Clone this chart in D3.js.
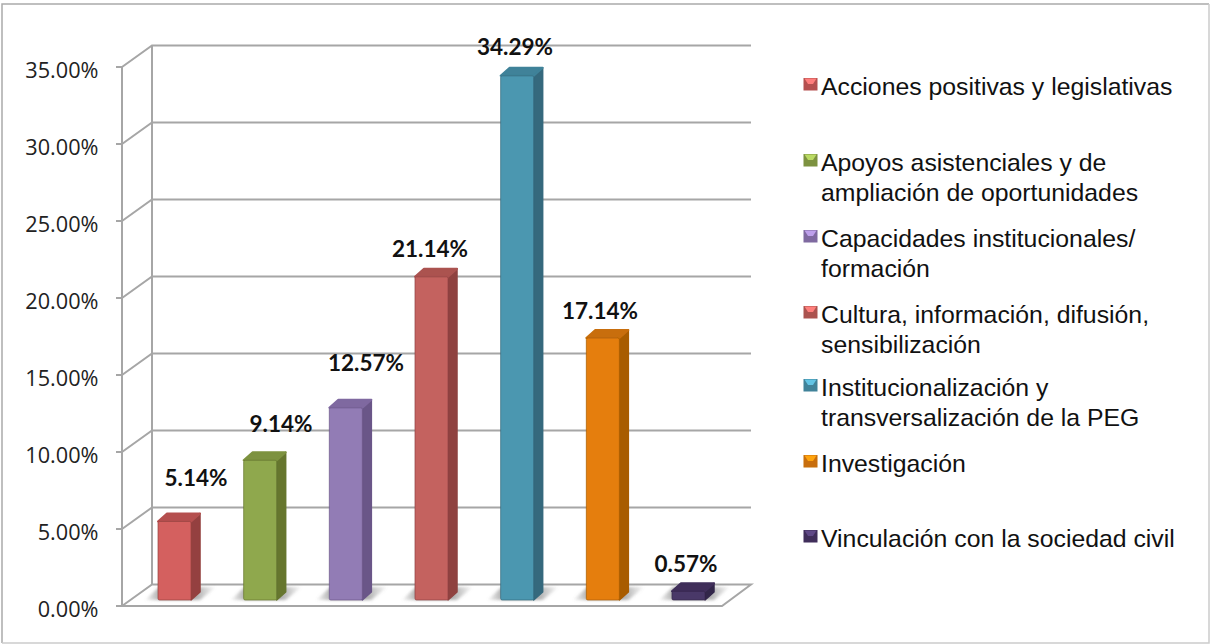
<!DOCTYPE html>
<html><head><meta charset="utf-8">
<script src="https://cdn.jsdelivr.net/npm/d3@7/dist/d3.min.js"></script>
<style>html,body{margin:0;padding:0;background:#fff}svg{display:block}</style></head>
<body><svg id="c" width="1210" height="644"></svg>
<script>
const categories=["Acciones positivas y legislativas","Apoyos asistenciales y de ampliación de oportunidades","Capacidades institucionales/ formación","Cultura, información, difusión, sensibilización","Institucionalización y transversalización de la PEG","Investigación","Vinculación con la sociedad civil"];
const legendLines=[["Acciones positivas y legislativas"],["Apoyos asistenciales y de","ampliación de oportunidades"],["Capacidades institucionales/","formación"],["Cultura, información, difusión,","sensibilización"],["Institucionalización y","transversalización de la PEG"],["Investigación"],["Vinculación con la sociedad civil"]];
const values=[5.14,9.14,12.57,21.14,34.29,17.14,0.57];
const valueLabels=["5.14%","9.14%","12.57%","21.14%","34.29%","17.14%","0.57%"];
const labelPos=[[196,478],[281,424],[366,363],[430,249],[515,47],[600,311],[686,564]];
const ticks=[0,5,10,15,20,25,30,35];
const front=["#D4605F","#8FA84D","#927BB5","#C4625F","#4B97B0","#E57E0A","#4A3768"];
const side=["#94413F","#66762F","#6A5688","#8F4341","#35697D","#A85B06","#33264A"];
const topc=["#B5504F","#7D923F","#7F69A0","#AB5250","#3F8299","#C86E08","#3F2E5A"];
const legendY=[84,160,236,312,385,461,536];

const svg=d3.select("#c");
const defs=svg.append("defs");
defs.append("filter").attr("id","blur").attr("filterUnits","userSpaceOnUse").attr("x",100).attr("y",560).attr("width",680).attr("height",60)
  .append("feGaussianBlur").attr("stdDeviation",1.8);
defs.append("filter").attr("id","soft").attr("x","-10%").attr("width","120%").attr("y","-10%").attr("height","120%")
  .append("feGaussianBlur").attr("stdDeviation",0.45);

const frame=svg.append("g").attr("fill","none").attr("stroke-width",1.5);
frame.append("path").attr("d","M2 643V4H1209").attr("stroke","#aaaaaa");
frame.append("path").attr("d","M1209 4V643H2").attr("stroke","#cccccc");

const y=d3.scaleLinear().domain([0,35]).range([606,67]);
const yBar=d3.scaleLinear().domain([0,35]).range([600,65]);
const x=d3.scaleBand().domain(d3.range(categories.length)).range([158,705]).paddingInner(.6145).paddingOuter(0);
const dx=30,dy=-21.5;
const grid="#a6a6a6";
const g=svg.append("g").attr("fill","none").attr("stroke",grid).attr("stroke-width",2);
g.append("path").attr("d",`M122 ${y(0)}L${122+dx} ${y(0)+dy}H751L722 ${y(0)}Z`).attr("fill","#fff");
ticks.forEach(t=>{
  if(t>0) g.append("path").attr("d",`M122 ${y(t)}L${122+dx} ${y(t)+dy}H751`);
  g.append("line").attr("x1",122).attr("x2",116).attr("y1",y(t)).attr("y2",y(t));
});
g.append("line").attr("x1",122).attr("x2",122).attr("y1",y(0)).attr("y2",y(35));
g.append("line").attr("x1",122+dx).attr("x2",122+dx).attr("y1",y(0)+dy).attr("y2",y(35)+dy);

svg.append("g").selectAll("text").data(ticks).join("text")
 .attr("x",98.5).attr("y",d=>y(d)+10.5).attr("text-anchor","end")
 .attr("font-family","Open Sans").attr("font-size",21.7).attr("fill","#222")
 .text(d=>d3.format(".2f")(d)+"%");

const bars=svg.append("g");
const bw=x.bandwidth(),sx=9,sy=8;
values.forEach((v,i)=>{
  const l=x(i),r=l+bw,b=yBar(0),t=yBar(v);
  const sid="shadow"+i;
  const sg=defs.append("linearGradient").attr("id",sid).attr("gradientUnits","userSpaceOnUse").attr("x1",l-13).attr("x2",r+25).attr("y1",0).attr("y2",0);
  [[0,.05],[.22,.6],[.7,.6],[1,.02]].forEach(([o,a])=>sg.append("stop").attr("offset",o).attr("stop-color","#707070").attr("stop-opacity",a));
  bars.append("path").attr("d",`M${l-13} ${b}L${l+1} ${b-13}H${r+25}L${r+9} ${b}Z`).attr("fill",`url(#${sid})`).attr("filter","url(#blur)");
  const gb=bars.append("g").attr("filter","url(#soft)");
  gb.append("path").attr("d",`M${r} ${t}L${r+sx} ${t-sy}V${b-sy}L${r} ${b}Z`).attr("fill",side[i]).attr("stroke",side[i]).attr("stroke-width",1.5).attr("stroke-linejoin","round");
  gb.append("path").attr("d",`M${l} ${t}L${l+sx} ${t-sy}H${r+sx}L${r} ${t}Z`).attr("fill",topc[i]).attr("stroke",topc[i]).attr("stroke-width",2).attr("stroke-linejoin","round");
  gb.append("rect").attr("x",l).attr("y",t).attr("width",bw).attr("height",b-t).attr("rx",1.5).attr("fill",front[i]).attr("stroke",side[i]).attr("stroke-width",1).attr("stroke-opacity",.7);
});

svg.append("g").selectAll("text").data(values).join("text")
 .attr("x",(d,i)=>labelPos[i][0]).attr("y",(d,i)=>labelPos[i][1]+7.5).attr("text-anchor","middle")
 .attr("font-family","Lato").attr("font-weight",700).attr("font-size",22.5).attr("fill","#111")
 .text((d,i)=>valueLabels[i]);

const lg=svg.append("g");
legendLines.forEach((lines,i)=>{
  const my=legendY[i];
  const m=lg.append("g").attr("filter","url(#soft)");
  m.append("rect").attr("x",803.5).attr("y",my-6).attr("width",14).attr("height",12.5).attr("fill",topc[i]);
  m.append("path").attr("d",`M804.5 ${my-5.5}H816.5L813 ${my}H808Z`).attr("fill",front[i]).attr("style","filter:brightness(1.3)");
  lines.forEach((s,j)=>{
    lg.append("text").attr("x",821).attr("y",my+11+j*29.7).attr("font-family","Liberation Sans").attr("font-size",24.8).attr("fill","#111").text(s);
  });
});
</script></body></html>
